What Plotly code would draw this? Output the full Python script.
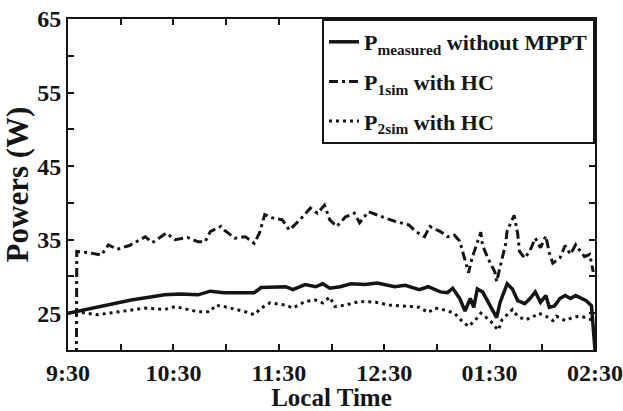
import plotly.graph_objects as go

# minutes after 9:30
t_meas = [0, 4, 17, 27, 36, 47, 55, 64, 74, 81, 89, 106, 110, 124, 128, 135, 141, 145, 149, 155,
          161, 169, 176, 186, 192, 200, 205, 212, 216, 219, 222, 223, 226, 229, 231, 233, 236, 239,
          241, 244, 246, 249, 250, 253, 256, 260, 263, 266, 269, 272, 274, 277, 280, 283, 286, 289,
          291, 295, 298, 300]
p_meas = [25.0, 25.2, 25.9, 26.3, 26.8, 27.2, 27.5, 27.6, 27.5, 28.0, 27.8, 27.8, 28.5, 28.6, 28.2,
          28.9, 28.6, 29.0, 28.4, 28.6, 29.0, 28.9, 29.1, 28.6, 28.8, 28.2, 28.6, 27.9, 27.8, 28.4,
          27.3, 27.0, 25.3, 27.0, 25.8, 28.3, 27.9, 26.5, 25.8, 24.4, 26.5, 28.3, 29.0, 28.3, 26.7,
          26.3, 27.0, 27.9, 26.5, 27.4, 25.8, 26.0, 27.0, 27.4, 27.0, 27.4, 27.2, 26.7, 26.0, 20.0]

t_p1 = [4.5, 5, 12.5, 19, 23, 28, 35, 44, 48, 52, 56, 61, 68, 74, 78, 81, 87, 89, 95, 101, 106,
        109, 112, 116, 122, 126, 132, 138, 142, 146, 149, 153, 158, 163, 166, 171, 175, 180, 186,
        194, 198, 203, 206, 212, 216, 220, 223, 228, 230, 232, 235, 236, 239, 243, 244, 246, 249,
        250, 254, 256, 257, 260, 263, 266, 269, 272, 274, 276, 280, 283, 286, 289, 291, 294, 297, 299]
p_p1 = [0.0, 33.4, 33.2, 32.9, 34.3, 33.7, 34.2, 35.4, 34.6, 35.2, 35.9, 35.0, 35.3, 34.7, 34.7,
        36.1, 36.8, 36.3, 35.2, 35.4, 34.5, 35.9, 38.4, 38.0, 37.7, 36.3, 37.7, 39.3, 38.6, 39.7,
        37.7, 36.8, 38.1, 38.6, 37.3, 38.8, 38.4, 38.0, 37.5, 37.0, 36.1, 35.4, 36.8, 36.1, 35.4,
        35.6, 34.8, 30.5, 32.5, 33.9, 36.0, 34.2, 32.5, 30.6, 29.3, 31.3, 34.3, 36.2, 38.3, 35.8,
        33.4, 32.5, 33.5, 35.2, 33.9, 35.5, 33.2, 31.8, 32.5, 34.2, 33.0, 34.3, 33.6, 32.7, 33.0, 30.6]

t_p2 = [0, 4, 17, 24, 35, 44, 55, 61, 68, 74, 81, 84, 89, 101, 106, 110, 115, 124, 128, 135, 141,
        145, 149, 152, 158, 166, 175, 183, 195, 200, 205, 209, 215, 220, 224, 228, 232, 235, 237,
        240, 243, 245, 247, 250, 253, 256, 260, 264, 268, 272, 276, 278, 283, 287, 291, 295, 298]
p_p2 = [25.0, 25.2, 24.8, 25.0, 25.4, 25.7, 25.5, 25.9, 25.5, 25.2, 25.2, 26.1, 25.9, 25.2, 24.8,
        25.7, 26.4, 26.1, 25.7, 26.6, 26.8, 26.4, 27.2, 25.9, 26.1, 26.6, 26.5, 26.1, 25.9, 25.8,
        25.1, 25.7, 25.4, 25.0, 24.0, 23.2, 24.1, 25.0, 24.6, 24.1, 23.2, 22.7, 24.1, 24.8, 25.5,
        24.6, 24.1, 24.4, 25.0, 24.6, 24.0, 24.6, 24.0, 24.4, 24.6, 24.4, 24.1]

x_tickvals = [0, 60, 120, 180, 240, 300]
x_ticktext = ["9:30", "10:30", "11:30", "12:30", "01:30", "02:30"]
y_tickvals = [25, 35, 45, 55, 65]

FONT = "Liberation Serif"
INK = "#151515"

fig = go.Figure()
fig.add_trace(go.Scatter(x=t_meas, y=p_meas, mode="lines", legendgroup="a",
                         name="P<sub>measured</sub> without MPPT",
                         line=dict(color=INK, width=3.5)))
fig.add_trace(go.Scatter(x=t_p1, y=p_p1, mode="lines", legendgroup="b",
                         name="P<sub>1sim</sub> with HC",
                         line=dict(color=INK, width=3, dash="9px,4px,3px,4px")))
fig.add_trace(go.Scatter(x=t_p2, y=p_p2, mode="lines", legendgroup="c",
                         name="P<sub>2sim</sub> with HC",
                         line=dict(color=INK, width=3, dash="3px,4px")))

axis_common = dict(showline=True, linecolor=INK, linewidth=2, mirror="ticks",
                   ticks="inside", ticklen=6, tickwidth=1.5, tickcolor=INK,
                   showgrid=False, zeroline=False, automargin=False,
                   tickfont=dict(family=FONT, size=24, color=INK, weight="bold"))

fig.update_xaxes(range=[0, 300], tickmode="array", tickvals=x_tickvals, ticktext=x_ticktext,
                 minor=dict(tickmode="array", tickvals=[30, 90, 150, 210, 270], ticks="inside",
                            ticklen=6, tickwidth=1.5, tickcolor=INK),
                 title=dict(text="Local Time", standoff=1,
                            font=dict(family=FONT, size=25, color=INK, weight="bold")),
                 **axis_common)
fig.update_yaxes(range=[20, 65], tickmode="array", tickvals=y_tickvals,
                 minor=dict(tickmode="array", tickvals=[30, 40, 50, 60], ticks="inside",
                            ticklen=6, tickwidth=1.5, tickcolor=INK),
                 title=dict(text="Powers (W)", standoff=6,
                            font=dict(family=FONT, size=31, color=INK, weight="bold")),
                 **axis_common)

fig.update_layout(
    width=623, height=411,
    margin=dict(l=68, r=28, t=19, b=61),
    plot_bgcolor="white", paper_bgcolor="white",
    showlegend=True,
    legend=dict(x=0.482, y=1, xanchor="left", yanchor="top",
                bgcolor="white", bordercolor=INK, borderwidth=2,
                font=dict(family=FONT, size=22, color=INK, weight="bold"),
                tracegroupgap=8),
)

fig.write_html("out.html", config={"displayModeBar": False},
               post_script="document.body.style.margin='0';document.body.style.overflow='hidden';")
